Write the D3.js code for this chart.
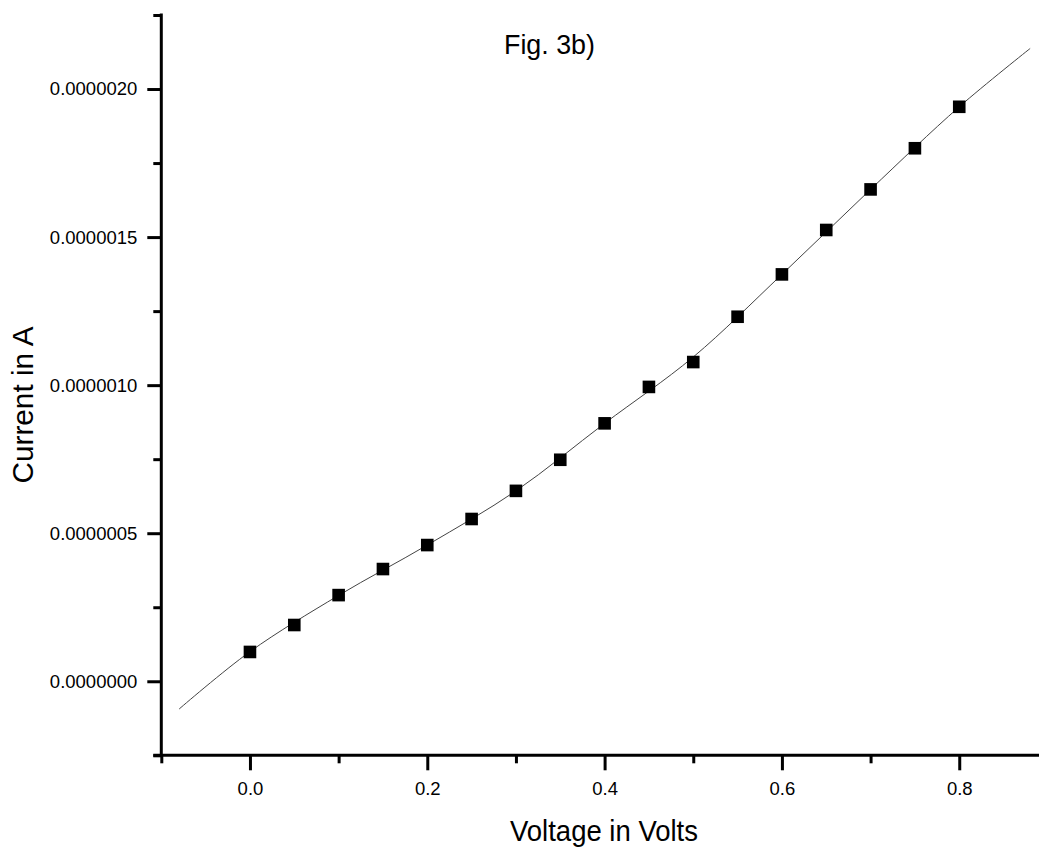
<!DOCTYPE html>
<html>
<head>
<meta charset="utf-8">
<script src="https://cdn.jsdelivr.net/npm/d3@7"></script>
<style>
  html, body { margin: 0; padding: 0; background: #fff; }
  svg { display: block; font-family: "Liberation Sans", Arial, sans-serif; }
</style>
</head>
<body>
<svg id="chart" width="1039" height="848"></svg>
<script>
// measured points (voltage in V, current in µA)
const voltage = [0.00, 0.05, 0.10, 0.15, 0.20, 0.25, 0.30, 0.35, 0.40,
                 0.45, 0.50, 0.55, 0.60, 0.65, 0.70, 0.75, 0.80];
const currentMicro = [0.099, 0.190, 0.291, 0.379, 0.460, 0.548, 0.643, 0.748, 0.871,
                      0.994, 1.078, 1.231, 1.374, 1.524, 1.661, 1.800, 1.940];

// fit curve
const fitVoltage = [-0.08, 0.0, 0.1, 0.2, 0.3, 0.4, 0.5, 0.6, 0.7, 0.8, 0.88];
const fitMicro = [-0.094, 0.100, 0.290, 0.460, 0.643, 0.871, 1.095, 1.374, 1.661, 1.940, 2.137];

const xMajor = [0.0, 0.2, 0.4, 0.6, 0.8];
const xMinor = [-0.1, 0.1, 0.3, 0.5, 0.7, 0.9];
const yMajor = [0, 0.5e-6, 1.0e-6, 1.5e-6, 2.0e-6];
const yMinor = [-0.25e-6, 0.25e-6, 0.75e-6, 1.25e-6, 1.75e-6, 2.25e-6];

const svg = d3.select('#chart');

const x = d3.scaleLinear().domain([-0.1, 0.9]).range([161.3, 1047.9]);
const y = d3.scaleLinear().domain([-0.25e-6, 2.25e-6]).range([755.3, 15]);

const pts = voltage.map((v, i) => ({ v, a: currentMicro[i] * 1e-6 }));
const fit = fitVoltage.map((v, i) => ({ v, a: fitMicro[i] * 1e-6 }));

// fit line
svg.append('path')
  .datum(fit)
  .attr('fill', 'none')
  .attr('stroke', '#444')
  .attr('stroke-width', 1)
  .attr('d', d3.line().x(d => x(d.v)).y(d => y(d.a)).curve(d3.curveCatmullRom));

// squares
const s = 12.6;
svg.append('g')
  .selectAll('rect')
  .data(pts)
  .join('rect')
  .attr('x', d => x(d.v) - s / 2)
  .attr('y', d => y(d.a) - s / 2)
  .attr('width', s)
  .attr('height', s)
  .attr('fill', '#000');

function styleAxis(g) {
  g.selectAll('path, line').attr('stroke', '#000').attr('stroke-width', 3);
  g.selectAll('text').attr('fill', '#000').attr('font-size', 18.5)
    .attr('font-family', '"Liberation Sans", Arial, sans-serif');
}

// x axis
svg.append('g')
  .attr('transform', `translate(0,${y(-0.25e-6)})`)
  .call(d3.axisBottom(x).tickValues(xMinor).tickSize(8).tickSizeOuter(0).tickFormat(''))
  .call(g => g.select('.domain').remove())
  .call(styleAxis);
svg.append('g')
  .attr('transform', `translate(0,${y(-0.25e-6)})`)
  .call(d3.axisBottom(x).tickValues(xMajor).tickSize(15).tickSizeOuter(0)
    .tickPadding(12).tickFormat(d3.format('.1f')))
  .call(g => g.select('.domain').attr('d', `M${x(-0.1) - 8},0H${x(0.9)}`))
  .call(styleAxis);

// y axis
svg.append('g')
  .attr('transform', `translate(${x(-0.1)},0)`)
  .call(d3.axisLeft(y).tickValues(yMinor).tickSize(8).tickSizeOuter(0).tickFormat(''))
  .call(g => g.select('.domain').remove())
  .call(styleAxis);
svg.append('g')
  .attr('transform', `translate(${x(-0.1)},0)`)
  .call(d3.axisLeft(y).tickValues(yMajor).tickSize(14).tickSizeOuter(0)
    .tickPadding(10).tickFormat(d3.format('.7f')))
  .call(g => g.select('.domain').attr('d', `M0,${y(2.25e-6) - 1.5}V${y(-0.25e-6)}`))
  .call(styleAxis);

// labels
svg.append('text')
  .attr('x', 549.5).attr('y', 54)
  .attr('text-anchor', 'middle')
  .attr('font-size', 27)
  .attr('textLength', 91).attr('lengthAdjust', 'spacingAndGlyphs')
  .text('Fig. 3b)');

svg.append('text')
  .attr('x', 604).attr('y', 841)
  .attr('text-anchor', 'middle')
  .attr('font-size', 29)
  .attr('textLength', 188).attr('lengthAdjust', 'spacingAndGlyphs')
  .text('Voltage in Volts');

svg.append('text')
  .attr('transform', 'translate(33,405) rotate(-90)')
  .attr('text-anchor', 'middle')
  .attr('font-size', 29.5)
  .attr('textLength', 157).attr('lengthAdjust', 'spacingAndGlyphs')
  .text('Current in A');
</script>
</body>
</html>
